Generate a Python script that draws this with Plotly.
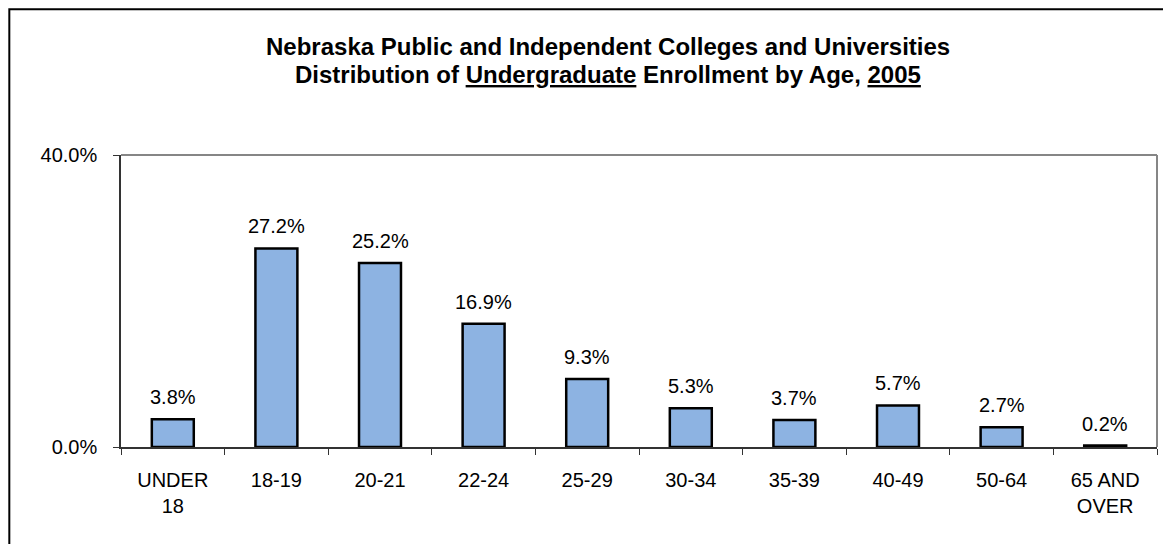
import plotly.graph_objects as go

# donnees
age_groups = ["UNDER<br>18", "18-19", "20-21", "22-24", "25-29", "30-34",
              "35-39", "40-49", "50-64", "65 AND<br>OVER"]
pct_enrollment = [3.8, 27.2, 25.2, 16.9, 9.3, 5.3, 3.7, 5.7, 2.7, 0.2]
y_ticks = [0, 40]
y_ticktext = ["0.0%", "40.0%"]

police = "Liberation Sans, Arial, sans-serif"

fig = go.Figure()
fig.add_trace(go.Bar(
    x=age_groups, y=pct_enrollment,
    width=0.405,
    marker=dict(color="#8DB3E2", line=dict(color="black", width=2.5)),
    hoverinfo="skip",
))

# etiquettes au-dessus des barres
for cat, val in zip(age_groups, pct_enrollment):
    fig.add_annotation(x=cat, y=val, text=f"{val:.1f}%", showarrow=False,
                       yanchor="bottom", yshift=9,
                       font=dict(family=police, size=20, color="black"))

# titre sur deux lignes
fig.add_annotation(xref="paper", yref="paper", x=0.47, y=1.37,
                   text="<b>Nebraska Public and Independent Colleges and Universities</b>",
                   showarrow=False, yanchor="middle",
                   font=dict(family=police, size=24, color="black"))
fig.add_annotation(xref="paper", yref="paper", x=0.47, y=1.277,
                   text="<b>Distribution of <u>Undergraduate</u> Enrollment by Age, <u>2005</u></b>",
                   showarrow=False, yanchor="middle",
                   font=dict(family=police, size=24, color="black"))

# cadre gris haut/droite de la zone de trace
fig.add_shape(type="line", xref="paper", yref="paper", x0=0, x1=1, y0=1, y1=1,
              line=dict(color="#868686", width=2))
fig.add_shape(type="line", xref="paper", yref="paper", x0=1, x1=1, y0=0, y1=1,
              line=dict(color="#868686", width=2))
# bordure exterieure du graphique
fig.add_shape(type="rect", xref="paper", yref="paper", x0=-0.1078, x1=1.2,
              y0=-0.8, y1=1.499, line=dict(color="black", width=2))

# la page ajoute une marge de 8px autour de la figure
fig.update_layout(
    width=1155, height=536, autosize=False,
    margin=dict(l=113, r=6, t=147, b=97),
    paper_bgcolor="white", plot_bgcolor="white",
    showlegend=False,
    font=dict(family=police, size=20, color="black"),
)
fig.update_xaxes(
    showline=True, linecolor="#333333", linewidth=1.5,
    ticks="outside", tickson="boundaries", ticklen=6, tickcolor="#333333",
    ticklabelstandoff=14,
    tickfont=dict(family=police, size=20, color="black"),
    showgrid=False, zeroline=False,
)
fig.update_yaxes(
    range=[0, 40], tickvals=y_ticks, ticktext=y_ticktext,
    showline=True, linecolor="#333333", linewidth=1.5,
    ticks="outside", ticklen=6, tickcolor="#333333",
    ticklabelstandoff=12,
    tickfont=dict(family=police, size=20, color="black"),
    showgrid=False, zeroline=False,
)

fig.write_html("out.html")
